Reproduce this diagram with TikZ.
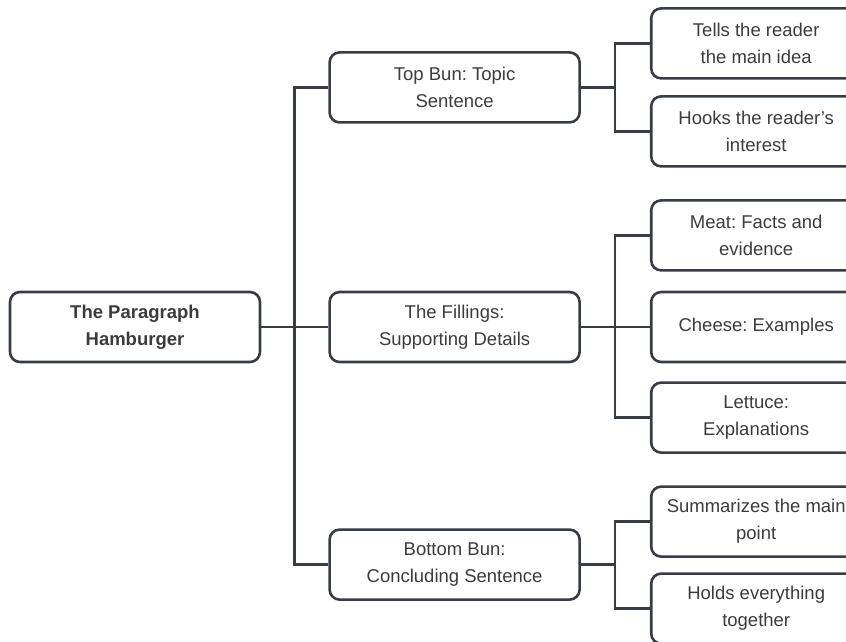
\documentclass[tikz,border=0pt]{standalone}
\usepackage{fontspec}
\setmainfont{Liberation Sans}
\usetikzlibrary{positioning}
\definecolor{linegray}{HTML}{383D45}
\definecolor{textgray}{HTML}{3C3C3C}
\tikzset{
  node distance = 67pt,
  box/.style    = {draw=linegray, line width=2.6pt, rounded corners=10pt, fill=white,
                   text=textgray, align=center, minimum height=70pt,
                   font=\frenchspacing\fontsize{18.5}{27}\selectfont},
  root/.style   = {box, minimum width=250pt, font=\frenchspacing\bfseries\fontsize{18.5}{27}\selectfont},
  bun/.style    = {box, minimum width=250pt},
  layer/.style  = {box, minimum width=210pt},
  link/.style   = {draw=linegray, line width=2.4pt}
}
\begin{document}
\begin{tikzpicture}[x=1pt, y=-1pt]
    \fill[white] (0,0) rectangle (846,642);
    \useasboundingbox (0,0) rectangle (846,642);
    % main column
    \node[root] (burger) at (135,327)         {The Paragraph\\Hamburger};
    \node[bun]  (fill)   [right=of burger]    {The Fillings:\\Supporting Details};
    \node[bun]  (top)    [above=167pt of fill] {Top Bun: Topic\\Sentence};
    \node[bun]  (bottom) [below=165pt of fill] {Bottom Bun:\\Concluding Sentence};
    % layers of the burger
    \node[layer] (tells)   [right=69pt of top, yshift=44pt]     {Tells the reader\\the main idea};
    \node[layer] (hooks)   [right=69pt of top, yshift=-44pt]    {Hooks the reader's\\interest};
    \node[layer] (cheese)  [right=69pt of fill]                 {Cheese: Examples};
    \node[layer] (meat)    [above=19pt of cheese]               {Meat: Facts and\\evidence};
    \node[layer] (lettuce) [below=18pt of cheese]               {Lettuce:\\Explanations};
    \node[layer] (summ)    [right=69pt of bottom, yshift=43pt]  {Summarizes the main\\point};
    \node[layer] (holds)   [right=69pt of bottom, yshift=-44pt] {Holds everything\\together};
    % connectors
    \draw[link] (burger) -- (fill);
    \draw[link] (top.west) -- ++(-34,0) |- (bottom.west);
    \draw[link] (top.east) -- ++(34,0) coordinate (topfork);
    \draw[link] (tells.west) -| (topfork) |- (hooks.west);
    \draw[link] (fill) -- (cheese);
    \draw[link] (meat.west) -- ++(-35,0) |- (lettuce.west);
    \draw[link] (bottom.east) -- ++(34,0) coordinate (botfork);
    \draw[link] (summ.west) -| (botfork) |- (holds.west);
\end{tikzpicture}
\end{document}
